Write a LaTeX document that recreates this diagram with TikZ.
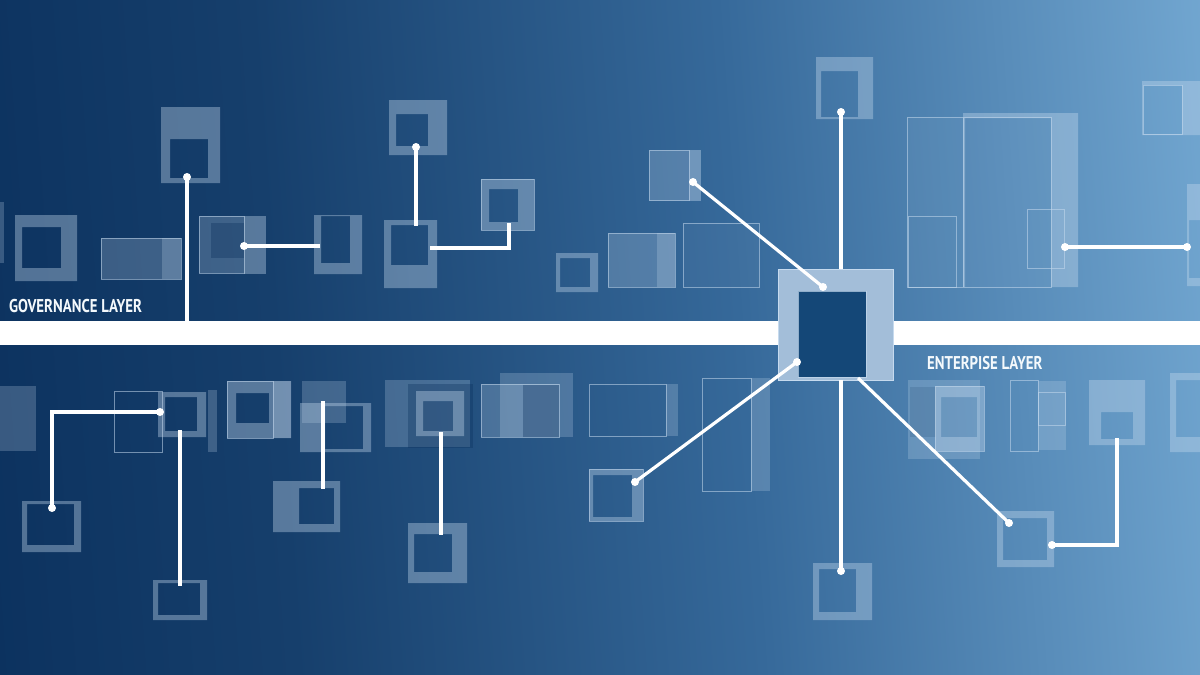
\documentclass[tikz,border=0pt]{standalone}
\usepackage{fontspec}
\usepackage{tikz}
\newfontfamily\layerfont[FakeStretch=0.8]{PT Sans}
\definecolor{navy}{HTML}{0B315E}
\definecolor{darkblue}{HTML}{163F6C}
\definecolor{midblue}{HTML}{36699A}
\definecolor{skyblue}{HTML}{7AAFD8}
\definecolor{tilec}{HTML}{C6DAEE}
\definecolor{coreouter}{HTML}{A3BED9}
\definecolor{coreinner}{HTML}{144777}
\pgfdeclarehorizontalshading{backdrop}{100bp}{color(0bp)=(navy); color(22bp)=(navy); color(36bp)=(darkblue); color(56bp)=(midblue); color(80bp)=(skyblue); color(100bp)=(skyblue)}
\tikzset{
  tile/.style={fill=tilec, fill opacity=0.38, even odd rule},
  pane/.style={fill=tilec, fill opacity=0.24},
  deep/.style={fill=navy, fill opacity=0.35},
  rim/.style={draw=tilec, draw opacity=0.55, line width=0.9pt},
  link/.style={draw=white, line width=3.2pt},
  pin/.style={circle, fill=white, inner sep=0pt, minimum size=8pt},
  layer/.style={text=white!92!skyblue, font=\layerfont\bfseries\fontsize{18.5}{18.5}\selectfont, inner sep=0pt, anchor=base west}
}
\begin{document}
\begin{tikzpicture}[x=1pt,y=-1pt]
  \useasboundingbox (0,0) rectangle (1200,675);
  \shade[shading=backdrop, shading angle=4] (0,0) rectangle (1200,675);

  % upper tiles
  \fill[tile] (161,107) rectangle (220,183) (170,139) rectangle (208,178);
  \fill[pane] (0,202) rectangle (4,263);
  \fill[tile] (15,215) rectangle (77,281) (22,227) rectangle (61,268);
  \fill[pane] (101,238) rectangle (181,279);
  \fill[pane] (162,238) rectangle (181,279);
  \draw[rim] (101,238) rectangle (181,279);
  \fill[pane] (199,216) rectangle (244,273);
  \draw[rim] (199,216) rectangle (244,273);
  \fill[tile] (244,216) rectangle (266,274);
  \fill[deep] (211,223) rectangle (244,258);
  \fill[tile] (314,215) rectangle (362,274) (321,216) rectangle (350,263);
  \fill[tile] (389,100) rectangle (447,155) (396,114) rectangle (428,146);
  \fill[tile] (384,220) rectangle (437,288) (391,225) rectangle (428,265);
  \fill[tile] (481,179) rectangle (534,230) (489,189) rectangle (518,222);
  \draw[rim] (481,179) rectangle (534,230);
  \fill[tile] (556,253) rectangle (598,292) (560,258) rectangle (590,287);
  \fill[pane] (608,233) rectangle (675,287);
  \fill[pane] (657,233) rectangle (675,287);
  \draw[rim] (608,233) rectangle (675,287);
  \fill[pane, fill opacity=0.06] (683,223) rectangle (759,287);
  \draw[rim] (683,223) rectangle (759,287);
  \fill[pane] (649,150) rectangle (701,201);
  \fill[pane] (689,150) rectangle (701,201);
  \draw[rim] (649,150) rectangle (689,200);
  \fill[tile] (816,57) rectangle (873,119) (821,71) rectangle (858,117);
  \fill[pane, fill opacity=0.06] (907,117) rectangle (1051,287);
  \draw[rim] (907,117) rectangle (1051,287);
  \fill[tile] (963,113) rectangle (1078,287) (965,118) rectangle (1051,287);
  \draw[rim] (963,118) -- (963,287);
  \draw[rim] (908,216) rectangle (956,287);
  \draw[rim] (1027,209) rectangle (1064,268);
  \fill[tile] (1142,81) rectangle (1200,135) (1143,85) rectangle (1182,134);
  \draw[rim] (1143,85) rectangle (1182,134);
  \fill[tile] (1187,184) rectangle (1200,286) (1189,220) rectangle (1200,278);

  % lower tiles
  \fill[pane] (0,386) rectangle (36,451);
  \draw[rim] (114,391) rectangle (162,452);
  \fill[tile] (158,392) rectangle (206,437) (165,397) rectangle (197,431);
  \fill[pane] (208,390) rectangle (217,452);
  \fill[tile] (22,501) rectangle (81,552) (27,504) rectangle (74,545);
  \fill[tile] (153,580) rectangle (207,620) (158,583) rectangle (200,615);
  \fill[tile] (227,381) rectangle (291,438) (236,393) rectangle (269,423);
  \fill[pane] (273,381) rectangle (291,438);
  \draw[rim] (227,381) rectangle (273,438);
  \fill[pane] (302,381) rectangle (346,423);
  \fill[tile] (300,403) rectangle (371,452) (325,406) rectangle (363,449);
  \fill[tile] (273,481) rectangle (340,532) (299,488) rectangle (334,524);
  \fill[pane] (385,380) rectangle (470,447);
  \fill[deep] (408,384) rectangle (473,448);
  \fill[tile] (416,391) rectangle (464,436) (423,401) rectangle (453,431);
  \fill[tile] (408,523) rectangle (467,583) (414,534) rectangle (452,572);
  \fill[pane] (481,384) rectangle (559,437);
  \draw[rim] (481,384) rectangle (559,437);
  \fill[pane] (500,373) rectangle (573,437);
  \fill[deep] (523,385) rectangle (559,437);
  \draw[rim] (589,384) rectangle (666,436);
  \fill[pane] (666,384) rectangle (678,436);
  \fill[tile] (589,469) rectangle (643,521) (593,475) rectangle (632,517);
  \draw[rim] (589,469) rectangle (643,521);
  \draw[rim] (702,378) rectangle (751,491);
  \fill[pane] (751,378) rectangle (770,491);
  \fill[pane] (908,380) rectangle (980,459);
  \fill[deep, fill opacity=0.15] (910,387) rectangle (936,437);
  \fill[tile] (935,386) rectangle (984,451) (941,397) rectangle (977,437);
  \draw[rim] (935,386) rectangle (984,451);
  \draw[rim] (1010,380) rectangle (1038,451);
  \fill[pane] (1038,381) rectangle (1066,450);
  \draw[rim] (1038,392) rectangle (1065,425);
  \fill[tile] (1089,380) rectangle (1145,445) (1101,412) rectangle (1133,439);
  \fill[tile] (1170,373) rectangle (1200,452) (1176,380) rectangle (1200,437);
  \fill[tile] (997,511) rectangle (1054,567) (1003,518) rectangle (1047,560);
  \fill[tile] (813,563) rectangle (872,620) (819,569) rectangle (856,612);

  % dividing band and core
  \fill[white] (0,321) rectangle (1200,345);
  \node[fill=coreouter, draw=tilec, line width=0.8pt, minimum width=115pt, minimum height=111pt, inner sep=0pt] (core) at (835.5,324.5) {};
  \node[fill=coreinner, draw=tilec, draw opacity=0.7, line width=0.8pt, minimum width=68pt, minimum height=86pt, inner sep=0pt] (hub) at (832,334) {};

  % link ends
  \coordinate (g1) at (187,177);   \coordinate (g1b) at (187,322);
  \coordinate (g2) at (244,246);   \coordinate (g2b) at (320,246);
  \coordinate (g3) at (416,147);   \coordinate (g3b) at (416,226);
  \coordinate (g4) at (430,248);   \coordinate (g4b) at (509,223);
  \coordinate (g5) at (693,182);   \coordinate (g5b) at (823,287);
  \coordinate (g6) at (841,112);
  \coordinate (g7) at (1065,247);  \coordinate (g7b) at (1187,247);
  \coordinate (e1) at (160,412);   \coordinate (e1b) at (52,508);
  \coordinate (e2) at (180,430);   \coordinate (e2b) at (180,586);
  \coordinate (e3) at (323,401);   \coordinate (e3b) at (323,489);
  \coordinate (e4) at (441,432);   \coordinate (e4b) at (441,535);
  \coordinate (e5) at (635,482);   \coordinate (e5b) at (797,362);
  \coordinate (e6) at (841,571);
  \coordinate (e7) at (858,378);   \coordinate (e7b) at (1009,523);
  \coordinate (e8) at (1052,545);  \coordinate (e8b) at (1117,438);

  \draw[link] (g1) -- (g1b);
  \draw[link] (g2) -- (g2b);
  \draw[link] (g3) -- (g3b);
  \draw[link] (g4) -| (g4b);
  \draw[link] (g5) -- (g5b);
  \draw[link] (g6) -- (core.north -| g6);
  \draw[link] (g7) -- (g7b);
  \draw[link] (e1) -| (e1b);
  \draw[link] (e2) -- (e2b);
  \draw[link] (e3) -- (e3b);
  \draw[link] (e4) -- (e4b);
  \draw[link] (e5) -- (e5b);
  \draw[link] (core.south -| e6) -- (e6);
  \draw[link] (e7) -- (e7b);
  \draw[link] (e8) -| (e8b);
  \foreach \p in {g1,g2,g3,g5,g5b,g6,g7,g7b,e1,e1b,e5,e5b,e6,e7b,e8}
    \node[pin] (pin-\p) at (\p) {};

  \node[layer] (gov) at (9,312) {GOVERNANCE LAYER};
  \node[layer] (ent) at (927,369) {ENTERPISE LAYER};
\end{tikzpicture}
\end{document}
